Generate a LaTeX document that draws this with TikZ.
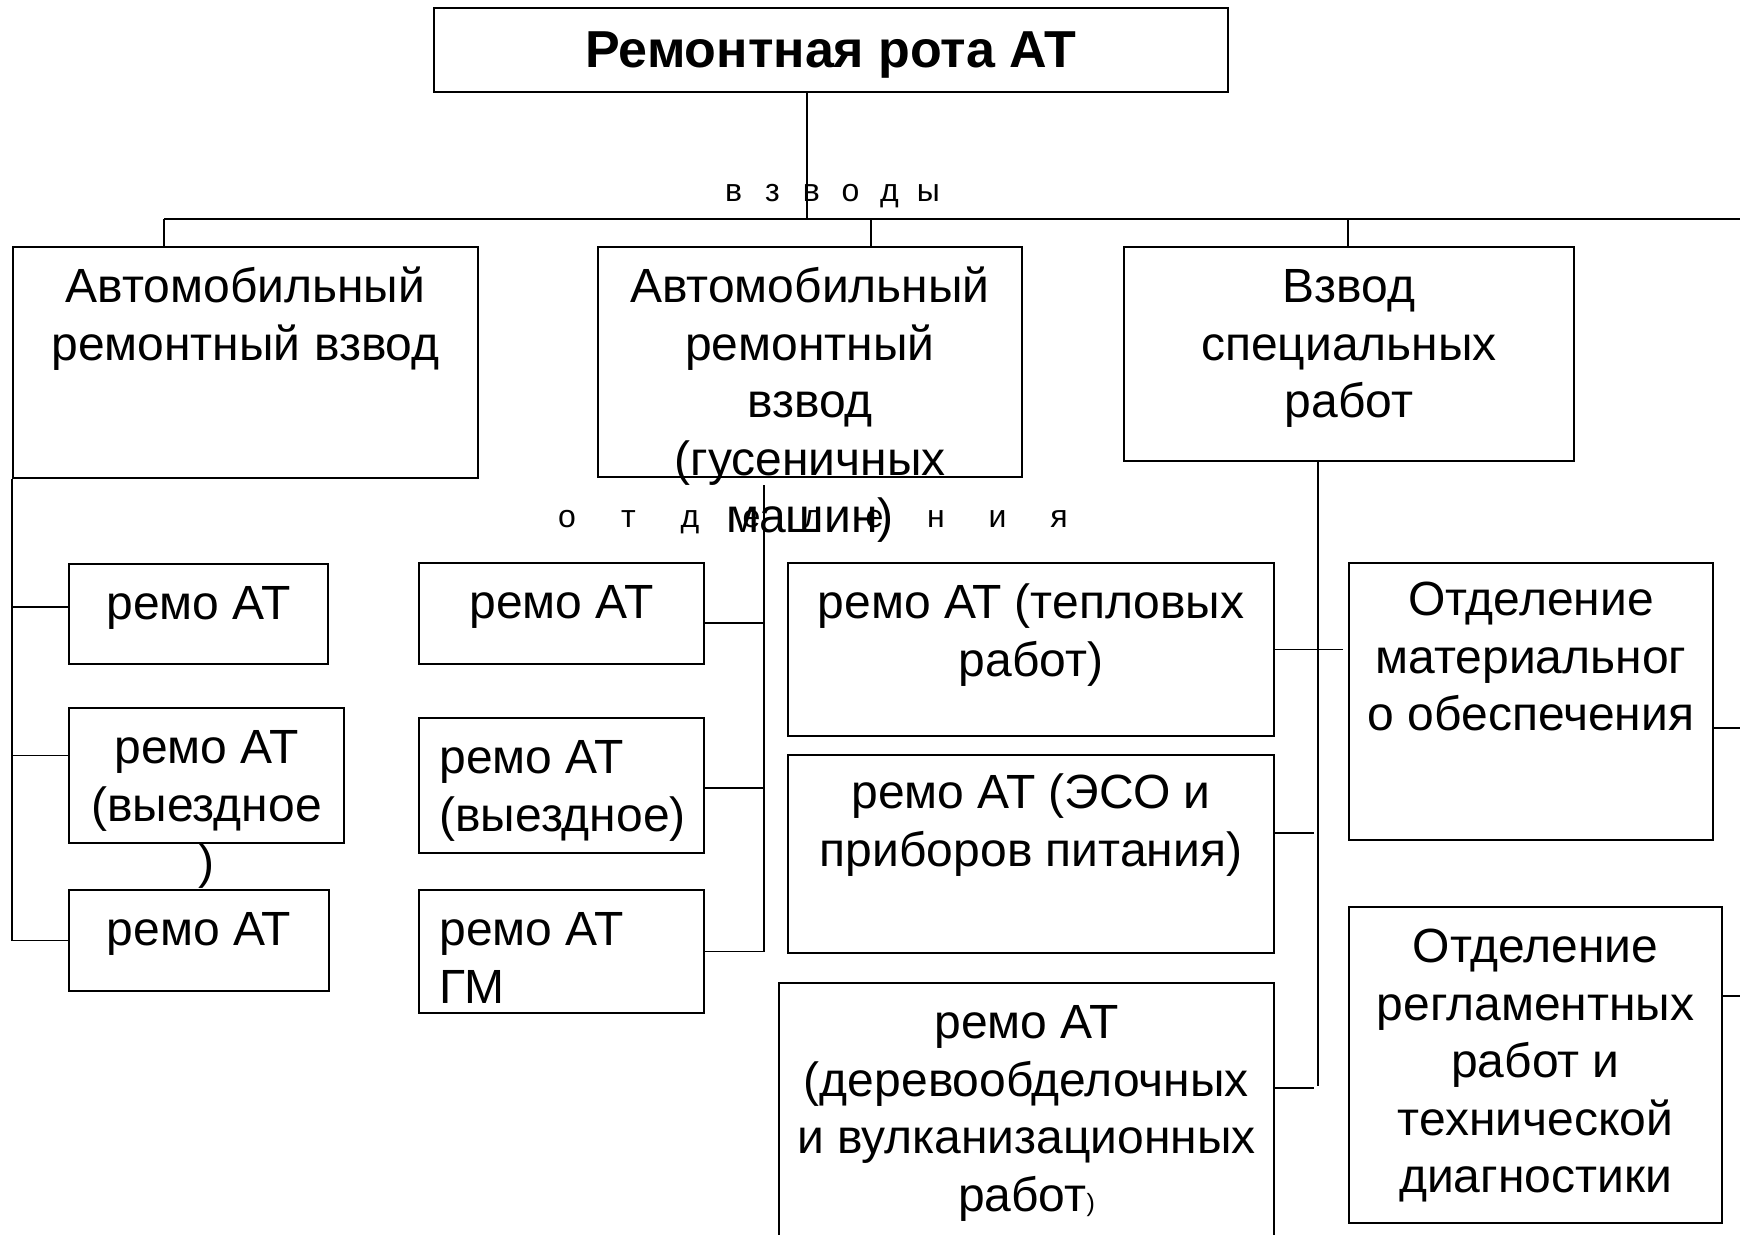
\documentclass[tikz,border=0pt]{standalone}
\usepackage{fontspec}
\setmainfont{Liberation Sans}
\usetikzlibrary{positioning}

\newcommand\boxfont{\fontsize{24pt}{28.75pt}\selectfont}
\newcommand\titlefont{\fontsize{26pt}{30pt}\selectfont\bfseries}
\newlength\lspw
\newcommand\lsp[1]{\makebox[\lspw]{#1}}

\tikzset{
  unit/.style={draw, line width=1pt, inner sep=0pt},
  lbl/.style={inner sep=0pt, align=center, font=\boxfont},
  spaced/.style={inner sep=0pt, anchor=base},
  link/.style={line width=0.7pt},
}

\begin{document}
\begin{tikzpicture}[x=0.5pt, y=-0.5pt]
\useasboundingbox (0,0) rectangle (1740,1235);

% top
\node[unit, font=\titlefont, text depth=0pt, minimum width=397pt, minimum height=42pt] (rota) at (831,50) {Ремонтная рота АТ};
\node[spaced, font=\fontsize{16pt}{18pt}\selectfont] (vzvody) at (831,202)
  {\setlength\lspw{19.5pt}\lsp{в}\lsp{з}\lsp{в}\lsp{о}\lsp{д}\lsp{ы}};

% platoons
\node[unit, minimum width=232.5pt, minimum height=115.5pt] (arv1) at (245.5,362.5) {};
\node[unit, minimum width=212pt, minimum height=115pt] (arv2) at (810,362) {};
\node[unit, minimum width=225pt, minimum height=107pt] (vsr) at (1349,354) {};
\node[lbl, below=8pt of arv1.north] (arv1t) {\strut Автомобильный\\ремонтный взвод};
\node[lbl, below=8pt of arv2.north] (arv2t) {\strut Автомобильный\\ремонтный\\взвод\\(гусеничных\\машин)};
\node[lbl, below=8pt of vsr.north] (vsrt) {\strut Взвод\\специальных\\работ};

\node[spaced, font=\fontsize{16pt}{18pt}\selectfont] (otd) at (813,527)
  {\setlength\lspw{30.75pt}\lsp{о}\lsp{т}\lsp{д}\lsp{е}\lsp{л}\lsp{е}\lsp{н}\lsp{и}\lsp{я}};

% sections, first platoon
\node[unit, minimum width=129.5pt, minimum height=50pt] (a1) at (198.5,614) {};
\node[unit, minimum width=137.5pt, minimum height=67.5pt] (a2) at (206.5,775.5) {};
\node[unit, minimum width=130pt, minimum height=50.5pt] (a3) at (199,940.5) {};
\node[lbl, below=8pt of a1.north] (a1t) {\strut ремо АТ};
\node[lbl, below=8pt of a2.north] (a2t) {\strut ремо АТ\\(выездное\\)};
\node[lbl, below=8pt of a3.north] (a3t) {\strut ремо АТ};

% sections, second platoon
\node[unit, minimum width=142.5pt, minimum height=50.5pt] (b1) at (561.5,613.5) {};
\node[unit, minimum width=142.5pt, minimum height=67.5pt] (b2) at (561.5,785.5) {};
\node[unit, minimum width=142.5pt, minimum height=61.5pt] (b3) at (561.5,951.5) {};
\node[lbl, below=8pt of b1.north] (b1t) {\strut ремо АТ};
\node[lbl, align=left, below right=8pt and 10.5pt of b2.north west] (b2t) {\strut ремо АТ\\(выездное)};
\node[lbl, align=left, below right=8pt and 10.5pt of b3.north west] (b3t) {\strut ремо АТ\\ГМ};

% sections, special works
\node[unit, minimum width=243pt, minimum height=86.5pt] (c1) at (1031,649.5) {};
\node[unit, minimum width=243pt, minimum height=99pt] (c2) at (1031,854) {};
\node[unit, minimum width=247.5pt, minimum height=133.5pt] (c3) at (1026.5,1116.5) {};
\node[unit, minimum width=182pt, minimum height=138.5pt] (d1) at (1531,701.5) {};
\node[unit, minimum width=186.5pt, minimum height=158pt] (d2) at (1535.5,1065) {};
\node[lbl, below=8pt of c1.north] (c1t) {\strut ремо АТ (тепловых\\работ)};
\node[lbl, below=7pt of c2.north] (c2t) {\strut ремо АТ (ЭСО и\\приборов питания)};
\node[lbl, below=8pt of c3.north] (c3t) {\strut ремо АТ\\(деревообделочных\\и вулканизационных\\работ{\fontsize{12.5pt}{14pt}\selectfont)}};
\node[lbl, below=6.5pt of d1.north] (d1t) {\strut Отделение\\материальног\\о обеспечения};
\node[lbl, below=8pt of d2.north] (d2t) {\strut Отделение\\регламентных\\работ и\\технической\\диагностики};

% bus
\coordinate (bus0) at (807,219);
\coordinate (busL) at (164,219);
\coordinate (busM) at (871,219);
\coordinate (busS) at (1348,219);
\coordinate (busR) at (1740,219);
\draw[link] (busL) -- (busR);
\draw[link] (rota.south -| bus0) -- (bus0);
\draw[link] (busL) -- (busL |- arv1.north);
\draw[link] (busM) -- (busM |- arv2.north);
\draw[link] (busS) -- (busS |- vsr.north);

% spines
\coordinate (sp2) at (764,485);
\coordinate (sp3) at (1318,1086);
\draw[link] (arv1.south west) -- (arv1.south west |- a3.west);
\foreach \n/\s in {a1/3.5pt, a2/10pt, a3/0pt}
  \draw[link] ([yshift=\s]\n.west) -- ([yshift=\s]\n.west -| arv1.south west);
\draw[link] (sp2) -- (sp2 |- b3.east);
\foreach \n/\s in {b1/-4.75pt, b2/-1.25pt, b3/0pt}
  \draw[link] ([yshift=\s]\n.east) -- ([yshift=\s]\n.east -| sp2);
\draw[link] (sp3 |- vsr.south) -- (sp3);
\draw[link] (c1.east) -- ++(34pt,0);
\draw[link] ([yshift=10.5pt]c2.east) -- ++(19.5pt,0);
\draw[link] ([yshift=14.25pt]c3.east) -- ++(19.5pt,0);
\draw[link] ([yshift=-13.25pt]d1.east) -- ([yshift=-13.25pt]d1.east -| busR);
\draw[link] ([yshift=34.5pt]d2.east) -- ([yshift=34.5pt]d2.east -| busR);
\end{tikzpicture}
\end{document}
